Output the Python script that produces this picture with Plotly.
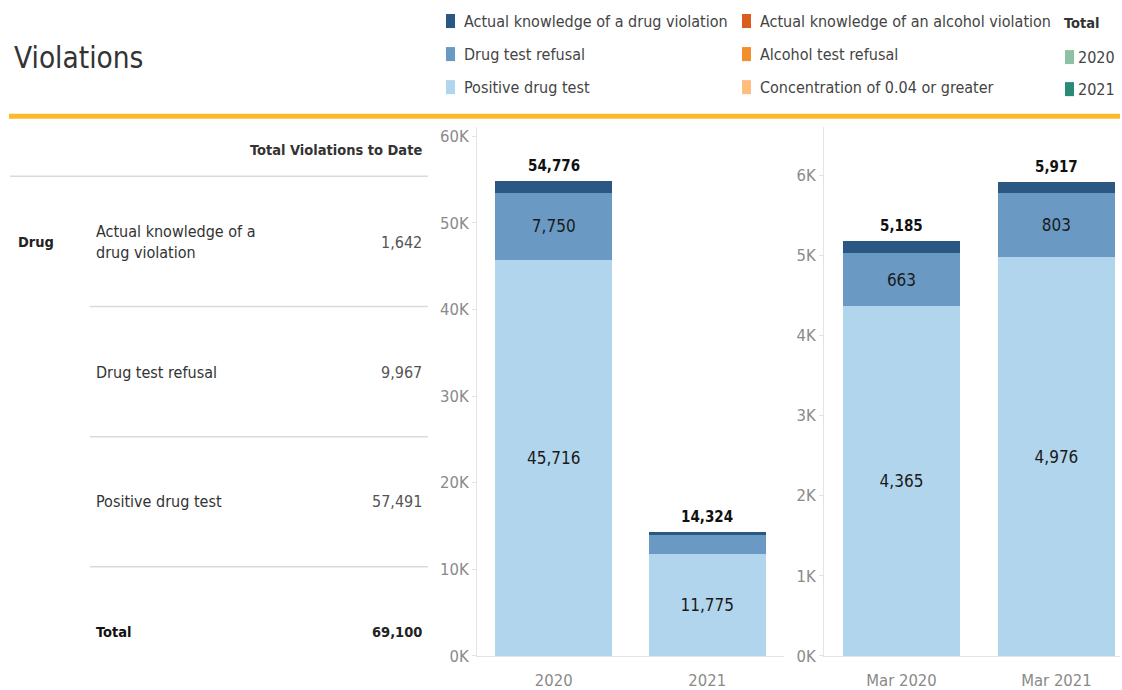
import plotly.graph_objects as go

# ---------------- data ----------------
years = ["2020", "2021"]
positive_year = [45716, 11775]
refusal_year = [7750, 2217]
knowledge_year = [1310, 332]

months = ["Mar 2020", "Mar 2021"]
positive_mar = [4365, 4976]
refusal_mar = [663, 803]
knowledge_mar = [157, 138]

drug_types = ["Actual knowledge of a drug violation", "Drug test refusal", "Positive drug test"]
alcohol_types = ["Actual knowledge of an alcohol violation", "Alcohol test refusal",
                 "Concentration of 0.04 or greater"]
total_years = ["2020", "2021"]

table_rows = ["Actual knowledge of a<br>drug violation", "Drug test refusal", "Positive drug test"]

# ---------------- styling ----------------
W, H = 1122, 690          # design grid (reference pixels)
FIG_H = 701               # rendered height (capture is rescaled to 690)
FONT = "DejaVu Sans Condensed, Roboto, sans-serif"
DARK, MID, LIGHT = "#2B5783", "#6A9AC3", "#B1D5EC"
ORANGES = ["#DC5B1E", "#F28E2B", "#FFBE7D"]
GREENS = ["#8DC1A4", "#2A8A78"]
TXT = "#333333"
AXIS = "#E3E3E3"
REG = 16
BOLD = 14.5


def px(x):
    return x / W


def py(y):
    return 1 - y / H


fig = go.Figure()


def add_stack(xs, pos, ref, kn, xa, ya, ymax):
    def labels(vals):
        return [f"{v:,}" if v / ymax > 0.05 else "" for v in vals]
    for vals, col, show in [(pos, LIGHT, True), (ref, MID, True), (kn, DARK, False)]:
        fig.add_trace(go.Bar(
            x=xs, y=vals, marker=dict(color=col, line=dict(width=0)),
            width=0.76, xaxis=xa, yaxis=ya,
            text=labels(vals) if show else None,
            textposition="inside", insidetextanchor="middle", textangle=0,
            textfont=dict(size=17, color="#1a1a1a", family=FONT),
            constraintext="none", hoverinfo="skip", showlegend=False))
    totals = [a + b + c for a, b, c in zip(pos, ref, kn)]
    for i, t in enumerate(totals):
        fig.add_annotation(x=i, y=t, xref=xa, yref=ya, text=f"<b>{t:,}</b>",
                           showarrow=False, yanchor="bottom", yshift=4,
                           font=dict(size=15, color="#111", family=FONT))


Y1MAX = 61040
Y2MAX = 6600
add_stack(years, positive_year, refusal_year, knowledge_year, "x", "y", Y1MAX)
add_stack(months, positive_mar, refusal_mar, knowledge_mar, "x2", "y2", Y2MAX)

ydom = [py(655), py(127)]
axis_common = dict(showgrid=False, zeroline=False, showline=True, linecolor=AXIS, linewidth=1,
                   tickfont=dict(size=16.5, color="#8a8a8a", family=FONT), fixedrange=True)

t1 = list(range(0, 60001, 10000))
t2 = list(range(0, 6001, 1000))
fig.update_layout(
    barmode="stack",
    width=W, height=FIG_H, margin=dict(l=0, r=0, t=0, b=0),
    paper_bgcolor="white", plot_bgcolor="white",
    font=dict(family=FONT, color=TXT),
    xaxis=dict(domain=[px(477), px(784)], type="category", range=[-0.5, 1.5], ticks="",
               ticklabelstandoff=9, **axis_common),
    yaxis=dict(domain=ydom, range=[0, Y1MAX], tickvals=t1,
               ticktext=[f"{v // 1000}K" for v in t1], ticks="outside", ticklen=4,
               tickcolor=AXIS, **axis_common),
    xaxis2=dict(domain=[px(824), px(1120)], type="category", range=[-0.5, 1.41], anchor="y2",
                ticks="", ticklabelstandoff=9, **axis_common),
    yaxis2=dict(domain=ydom, range=[0, Y2MAX], anchor="x2", tickvals=t2,
                ticktext=[f"{v // 1000}K" for v in t2], ticks="outside", ticklen=4,
                tickcolor=AXIS, **axis_common),
    showlegend=False,
)

# ---------------- title & rule ----------------
fig.add_annotation(x=px(12), y=py(58), xref="paper", yref="paper", text="Violations",
                   showarrow=False, xanchor="left", yanchor="middle",
                   font=dict(size=29.5, color="#333", family=FONT))
fig.add_shape(type="line", xref="paper", yref="paper", x0=px(9), x1=px(1120),
              y0=py(116), y1=py(116), line=dict(color="#FDB92C", width=5))


# ---------------- custom legend ----------------
def legend_item(xsq, xtxt, y, color, label):
    fig.add_shape(type="rect", xref="paper", yref="paper", x0=px(xsq), x1=px(xsq + 9),
                  y0=py(y + 7), y1=py(y - 7), fillcolor=color, line=dict(width=0))
    fig.add_annotation(x=px(xtxt), y=py(y), xref="paper", yref="paper", text=label,
                       showarrow=False, xanchor="left", yanchor="middle",
                       font=dict(size=REG, color="#444", family=FONT))


row_y = [21, 54, 87]
for lab, col, y in zip(drug_types, [DARK, MID, LIGHT], row_y):
    legend_item(446, 462, y, col, lab)
for lab, col, y in zip(alcohol_types, ORANGES, row_y):
    legend_item(742, 758, y, col, lab)
fig.add_annotation(x=px(1062), y=py(23), xref="paper", yref="paper", text="<b>Total</b>",
                   showarrow=False, xanchor="left", yanchor="middle",
                   font=dict(size=BOLD, color="#333", family=FONT))
for lab, col, y in zip(total_years, GREENS, [57, 89]):
    legend_item(1065, 1076, y, col, lab)

# ---------------- table ----------------
table_values = [sum(knowledge_year), sum(refusal_year), sum(positive_year)]
table_total = sum(table_values)


def txt(x, y, s, anchor="left", bold=False, color=TXT):
    fig.add_annotation(x=px(x), y=py(y), xref="paper", yref="paper",
                       text=f"<b>{s}</b>" if bold else s, showarrow=False,
                       xanchor=anchor, yanchor="middle", align="left",
                       font=dict(size=BOLD if bold else REG, color=color, family=FONT))


def hline(y, x0, x1=428):
    fig.add_shape(type="line", xref="paper", yref="paper", x0=px(x0), x1=px(x1),
                  y0=py(y), y1=py(y), line=dict(color="#DADADA", width=1.5))


txt(424, 150, "Total Violations to Date", anchor="right", bold=True)
hline(176, 10)
txt(16, 242, "Drug", bold=True, color="#222")
row_centers = [242, 372, 501]
for lab, val, yc in zip(table_rows, table_values, row_centers):
    txt(94, yc, lab)
    txt(424, yc, f"{val:,}", anchor="right", color="#555")
for yl in [306, 436, 566]:
    hline(yl, 90)
txt(94, 631, "Total", bold=True, color="#111")
txt(424, 631, f"{table_total:,}", anchor="right", bold=True, color="#222")

PIN = ("document.body.style.margin='0';"
       "var d=document.getElementById('{plot_id}');"
       "d.style.position='fixed';d.style.left='0px';d.style.top='0px';")
fig.write_html("out.html", config={"displayModeBar": False}, post_script=PIN)
